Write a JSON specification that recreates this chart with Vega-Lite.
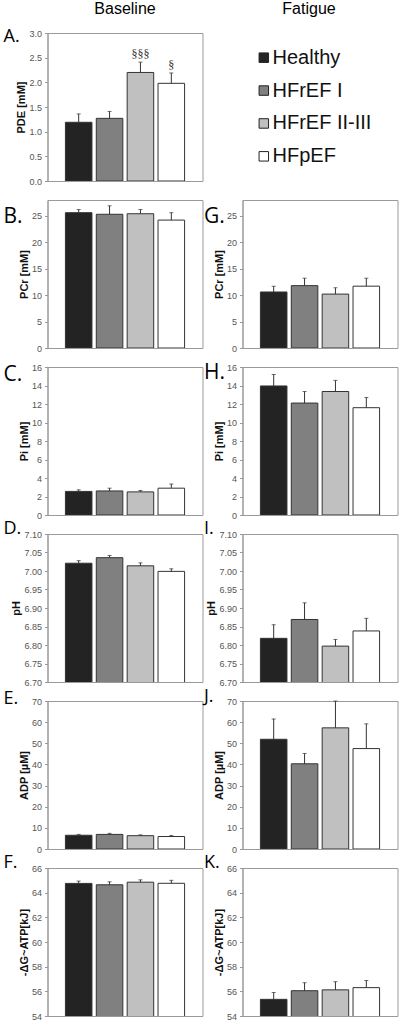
{
  "$schema": "https://vega.github.io/schema/vega-lite/v6.json",
  "padding": {"left": 2.5, "top": 0, "right": 0, "bottom": 0},
  "background": "#ffffff",
  "datasets": {
    "hdr": [{"col": "Baseline"}, {"col": "Fatigue"}],
    "bars": [
      {"p": "A", "g": "Healthy", "m": 1.19, "u": 1.36},
      {"p": "A", "g": "HFrEF I", "m": 1.27, "u": 1.41},
      {"p": "A", "g": "HFrEF II-III", "m": 2.2, "u": 2.41, "s": "§§§"},
      {"p": "A", "g": "HFpEF", "m": 1.98, "u": 2.19, "s": "§"},
      {"p": "B", "g": "Healthy", "m": 25.6, "u": 26.2},
      {"p": "B", "g": "HFrEF I", "m": 25.3, "u": 26.9},
      {"p": "B", "g": "HFrEF II-III", "m": 25.4, "u": 26.2},
      {"p": "B", "g": "HFpEF", "m": 24.2, "u": 25.6},
      {"p": "C", "g": "Healthy", "m": 2.55, "u": 2.72},
      {"p": "C", "g": "HFrEF I", "m": 2.6, "u": 2.9},
      {"p": "C", "g": "HFrEF II-III", "m": 2.5, "u": 2.65},
      {"p": "C", "g": "HFpEF", "m": 2.9, "u": 3.35},
      {"p": "D", "g": "Healthy", "m": 7.021, "u": 7.028},
      {"p": "D", "g": "HFrEF I", "m": 7.036, "u": 7.042},
      {"p": "D", "g": "HFrEF II-III", "m": 7.014, "u": 7.022},
      {"p": "D", "g": "HFpEF", "m": 6.999, "u": 7.006},
      {"p": "E", "g": "Healthy", "m": 6.5, "u": 6.9},
      {"p": "E", "g": "HFrEF I", "m": 6.9, "u": 7.4},
      {"p": "E", "g": "HFrEF II-III", "m": 6.3, "u": 6.7},
      {"p": "E", "g": "HFpEF", "m": 5.9, "u": 6.4},
      {"p": "F", "g": "Healthy", "m": 64.75, "u": 64.94},
      {"p": "F", "g": "HFrEF I", "m": 64.64, "u": 64.88},
      {"p": "F", "g": "HFrEF II-III", "m": 64.85, "u": 65.04},
      {"p": "F", "g": "HFpEF", "m": 64.76, "u": 65.0},
      {"p": "G", "g": "Healthy", "m": 10.6, "u": 11.7},
      {"p": "G", "g": "HFrEF I", "m": 11.8, "u": 13.2},
      {"p": "G", "g": "HFrEF II-III", "m": 10.2, "u": 11.4},
      {"p": "G", "g": "HFpEF", "m": 11.7, "u": 13.2},
      {"p": "H", "g": "Healthy", "m": 13.95, "u": 15.2},
      {"p": "H", "g": "HFrEF I", "m": 12.1, "u": 13.35},
      {"p": "H", "g": "HFrEF II-III", "m": 13.35, "u": 14.55},
      {"p": "H", "g": "HFpEF", "m": 11.6, "u": 12.7},
      {"p": "I", "g": "Healthy", "m": 6.818, "u": 6.855},
      {"p": "I", "g": "HFrEF I", "m": 6.869, "u": 6.914},
      {"p": "I", "g": "HFrEF II-III", "m": 6.797, "u": 6.815},
      {"p": "I", "g": "HFpEF", "m": 6.838, "u": 6.872},
      {"p": "J", "g": "Healthy", "m": 51.9, "u": 61.5},
      {"p": "J", "g": "HFrEF I", "m": 40.3, "u": 45.2},
      {"p": "J", "g": "HFrEF II-III", "m": 57.3, "u": 70},
      {"p": "J", "g": "HFpEF", "m": 47.5, "u": 59.2},
      {"p": "K", "g": "Healthy", "m": 55.35, "u": 55.9},
      {"p": "K", "g": "HFrEF I", "m": 56.05, "u": 56.7},
      {"p": "K", "g": "HFrEF II-III", "m": 56.12, "u": 56.78},
      {"p": "K", "g": "HFpEF", "m": 56.3, "u": 56.88}
    ]
  },
  "columns": 2,
  "spacing": {"row": 19, "column": 40},
  "bounds": "flush",
  "concat": [
    {
      "width": 155, "height": 14, "view": {"stroke": null},
      "data": {"name": "hdr"},
      "transform": [{"filter": "datum.col === 'Baseline'"}],
      "mark": {"type": "text", "font": "Liberation Sans", "fontSize": 16, "color": "#000", "baseline": "alphabetic", "dy": 7},
      "encoding": {"text": {"field": "col", "type": "nominal"}}
    },
    {
      "width": 155, "height": 14, "view": {"stroke": null},
      "data": {"name": "hdr"},
      "transform": [{"filter": "datum.col === 'Fatigue'"}],
      "mark": {"type": "text", "font": "Liberation Sans", "fontSize": 16, "color": "#000", "baseline": "alphabetic", "dy": 7, "dx": -11},
      "encoding": {"text": {"field": "col", "type": "nominal"}}
    },
    {
      "width": 155, "height": 148,
      "title": {"text": "A.", "fontSize": 18, "dx": -44, "dy": 20.8},
      "data": {"name": "bars"},
      "transform": [{"filter": "datum.p === 'A'"}],
      "encoding": {"x": {"field": "g", "type": "nominal", "sort": ["Healthy", "HFrEF I", "HFrEF II-III", "HFpEF"], "scale": {"paddingInner": 0.14, "paddingOuter": 0.58}, "axis": null}},
      "layer": [
        {"mark": {"type": "bar", "stroke": "#333", "strokeWidth": 1, "clip": true},
         "encoding": {"y": {"field": "m", "type": "quantitative", "scale": {"domain": [0, 3], "zero": false, "nice": false}, "axis": {"title": "PDE [mM]", "values": [0, 0.5, 1, 1.5, 2, 2.5, 3], "format": ".1f"}},
                      "fill": {"field": "g", "type": "nominal", "scale": {"domain": ["Healthy", "HFrEF I", "HFrEF II-III", "HFpEF"], "range": ["#232323", "#808080", "#c0c0c0", "#ffffff"]}, "legend": null}}},
        {"mark": {"type": "rule", "color": "#333", "strokeWidth": 1}, "encoding": {"y": {"field": "m", "type": "quantitative", "axis": {"title": "PDE [mM]", "values": [0, 0.5, 1, 1.5, 2, 2.5, 3], "format": ".1f"}}, "y2": {"field": "u"}}},
        {"mark": {"type": "tick", "color": "#333", "size": 4, "thickness": 1}, "encoding": {"y": {"field": "u", "type": "quantitative", "axis": {"title": "PDE [mM]", "values": [0, 0.5, 1, 1.5, 2, 2.5, 3], "format": ".1f"}}}},
        {"transform": [{"filter": "datum.s"}], "mark": {"type": "text", "font": "Liberation Serif", "fontSize": 12, "color": "#333", "baseline": "bottom", "dy": -1}, "encoding": {"y": {"field": "u", "type": "quantitative", "axis": {"title": "PDE [mM]", "values": [0, 0.5, 1, 1.5, 2, 2.5, 3], "format": ".1f"}}, "text": {"field": "s", "type": "nominal"}}}
      ]
    },
    {
      "width": 155, "height": 148, "view": {"stroke": null},
      "data": {"name": "bars"},
      "transform": [{"filter": "datum.p === 'A'"}],
      "encoding": {"y": {"field": "g", "type": "nominal", "sort": ["Healthy", "HFrEF I", "HFrEF II-III", "HFpEF"], "scale": {"type": "point", "padding": 0.75}, "axis": null}},
      "layer": [
        {"mark": {"type": "point", "shape": "square", "size": 90, "filled": true, "opacity": 1, "stroke": "#222", "strokeWidth": 1},
         "encoding": {"x": {"datum": 22, "type": "quantitative", "scale": {"domain": [0, 155]}, "axis": null},
                      "fill": {"field": "g", "type": "nominal", "scale": {"domain": ["Healthy", "HFrEF I", "HFrEF II-III", "HFpEF"], "range": ["#232323", "#808080", "#c0c0c0", "#ffffff"]}, "legend": null}}},
        {"mark": {"type": "text", "align": "left", "baseline": "middle", "font": "Liberation Sans", "fontSize": 20, "color": "#111"},
         "encoding": {"x": {"datum": 31, "type": "quantitative", "axis": null}, "text": {"field": "g", "type": "nominal"}}}
      ]
    },
    {
      "width": 155, "height": 148,
      "title": {"text": "B.", "fontSize": 21, "dx": -44, "dy": 31.2},
      "data": {"name": "bars"},
      "transform": [{"filter": "datum.p === 'B'"}],
      "encoding": {"x": {"field": "g", "type": "nominal", "sort": ["Healthy", "HFrEF I", "HFrEF II-III", "HFpEF"], "scale": {"paddingInner": 0.14, "paddingOuter": 0.58}, "axis": null}},
      "layer": [
        {"mark": {"type": "bar", "stroke": "#333", "strokeWidth": 1, "clip": true},
         "encoding": {"y": {"field": "m", "type": "quantitative", "scale": {"domain": [0, 28], "zero": false, "nice": false}, "axis": {"title": "PCr [mM]", "values": [0, 5, 10, 15, 20, 25]}},
                      "fill": {"field": "g", "type": "nominal", "scale": {"domain": ["Healthy", "HFrEF I", "HFrEF II-III", "HFpEF"], "range": ["#232323", "#808080", "#c0c0c0", "#ffffff"]}, "legend": null}}},
        {"mark": {"type": "rule", "color": "#333", "strokeWidth": 1}, "encoding": {"y": {"field": "m", "type": "quantitative", "axis": {"title": "PCr [mM]", "values": [0, 5, 10, 15, 20, 25]}}, "y2": {"field": "u"}}},
        {"mark": {"type": "tick", "color": "#333", "size": 4, "thickness": 1}, "encoding": {"y": {"field": "u", "type": "quantitative", "axis": {"title": "PCr [mM]", "values": [0, 5, 10, 15, 20, 25]}}}}
      ]
    },
    {
      "width": 155, "height": 148,
      "title": {"text": "G.", "fontSize": 21, "dx": -38.5, "dy": 31.2},
      "data": {"name": "bars"},
      "transform": [{"filter": "datum.p === 'G'"}],
      "encoding": {"x": {"field": "g", "type": "nominal", "sort": ["Healthy", "HFrEF I", "HFrEF II-III", "HFpEF"], "scale": {"paddingInner": 0.14, "paddingOuter": 0.58}, "axis": null}},
      "layer": [
        {"mark": {"type": "bar", "stroke": "#333", "strokeWidth": 1, "clip": true},
         "encoding": {"y": {"field": "m", "type": "quantitative", "scale": {"domain": [0, 28], "zero": false, "nice": false}, "axis": {"title": "PCr [mM]", "values": [0, 5, 10, 15, 20, 25]}},
                      "fill": {"field": "g", "type": "nominal", "scale": {"domain": ["Healthy", "HFrEF I", "HFrEF II-III", "HFpEF"], "range": ["#232323", "#808080", "#c0c0c0", "#ffffff"]}, "legend": null}}},
        {"mark": {"type": "rule", "color": "#333", "strokeWidth": 1}, "encoding": {"y": {"field": "m", "type": "quantitative", "axis": {"title": "PCr [mM]", "values": [0, 5, 10, 15, 20, 25]}}, "y2": {"field": "u"}}},
        {"mark": {"type": "tick", "color": "#333", "size": 4, "thickness": 1}, "encoding": {"y": {"field": "u", "type": "quantitative", "axis": {"title": "PCr [mM]", "values": [0, 5, 10, 15, 20, 25]}}}}
      ]
    },
    {
      "width": 155, "height": 148,
      "title": {"text": "C.", "fontSize": 21, "dx": -44, "dy": 26},
      "data": {"name": "bars"},
      "transform": [{"filter": "datum.p === 'C'"}],
      "encoding": {"x": {"field": "g", "type": "nominal", "sort": ["Healthy", "HFrEF I", "HFrEF II-III", "HFpEF"], "scale": {"paddingInner": 0.14, "paddingOuter": 0.58}, "axis": null}},
      "layer": [
        {"mark": {"type": "bar", "stroke": "#333", "strokeWidth": 1, "clip": true},
         "encoding": {"y": {"field": "m", "type": "quantitative", "scale": {"domain": [0, 16], "zero": false, "nice": false}, "axis": {"title": "Pi [mM]", "values": [0, 2, 4, 6, 8, 10, 12, 14, 16]}},
                      "fill": {"field": "g", "type": "nominal", "scale": {"domain": ["Healthy", "HFrEF I", "HFrEF II-III", "HFpEF"], "range": ["#232323", "#808080", "#c0c0c0", "#ffffff"]}, "legend": null}}},
        {"mark": {"type": "rule", "color": "#333", "strokeWidth": 1}, "encoding": {"y": {"field": "m", "type": "quantitative", "axis": {"title": "Pi [mM]", "values": [0, 2, 4, 6, 8, 10, 12, 14, 16]}}, "y2": {"field": "u"}}},
        {"mark": {"type": "tick", "color": "#333", "size": 4, "thickness": 1}, "encoding": {"y": {"field": "u", "type": "quantitative", "axis": {"title": "Pi [mM]", "values": [0, 2, 4, 6, 8, 10, 12, 14, 16]}}}}
      ]
    },
    {
      "width": 155, "height": 148,
      "title": {"text": "H.", "fontSize": 21, "dx": -38.5, "dy": 24.4},
      "data": {"name": "bars"},
      "transform": [{"filter": "datum.p === 'H'"}],
      "encoding": {"x": {"field": "g", "type": "nominal", "sort": ["Healthy", "HFrEF I", "HFrEF II-III", "HFpEF"], "scale": {"paddingInner": 0.14, "paddingOuter": 0.58}, "axis": null}},
      "layer": [
        {"mark": {"type": "bar", "stroke": "#333", "strokeWidth": 1, "clip": true},
         "encoding": {"y": {"field": "m", "type": "quantitative", "scale": {"domain": [0, 16], "zero": false, "nice": false}, "axis": {"title": "Pi [mM]", "values": [0, 2, 4, 6, 8, 10, 12, 14, 16]}},
                      "fill": {"field": "g", "type": "nominal", "scale": {"domain": ["Healthy", "HFrEF I", "HFrEF II-III", "HFpEF"], "range": ["#232323", "#808080", "#c0c0c0", "#ffffff"]}, "legend": null}}},
        {"mark": {"type": "rule", "color": "#333", "strokeWidth": 1}, "encoding": {"y": {"field": "m", "type": "quantitative", "axis": {"title": "Pi [mM]", "values": [0, 2, 4, 6, 8, 10, 12, 14, 16]}}, "y2": {"field": "u"}}},
        {"mark": {"type": "tick", "color": "#333", "size": 4, "thickness": 1}, "encoding": {"y": {"field": "u", "type": "quantitative", "axis": {"title": "Pi [mM]", "values": [0, 2, 4, 6, 8, 10, 12, 14, 16]}}}}
      ]
    },
    {
      "width": 155, "height": 148,
      "title": {"text": "D.", "fontSize": 18, "dx": -44, "dy": 12.4},
      "data": {"name": "bars"},
      "transform": [{"filter": "datum.p === 'D'"}],
      "encoding": {"x": {"field": "g", "type": "nominal", "sort": ["Healthy", "HFrEF I", "HFrEF II-III", "HFpEF"], "scale": {"paddingInner": 0.14, "paddingOuter": 0.58}, "axis": null}},
      "layer": [
        {"mark": {"type": "bar", "stroke": "#333", "strokeWidth": 1, "clip": true},
         "encoding": {"y": {"field": "m", "type": "quantitative", "scale": {"domain": [6.7, 7.1], "zero": false, "nice": false}, "axis": {"title": "pH", "values": [6.7, 6.75, 6.8, 6.85, 6.9, 6.95, 7.0, 7.05, 7.1], "format": ".2f"}},
                      "fill": {"field": "g", "type": "nominal", "scale": {"domain": ["Healthy", "HFrEF I", "HFrEF II-III", "HFpEF"], "range": ["#232323", "#808080", "#c0c0c0", "#ffffff"]}, "legend": null}}},
        {"mark": {"type": "rule", "color": "#333", "strokeWidth": 1}, "encoding": {"y": {"field": "m", "type": "quantitative", "axis": {"title": "pH", "values": [6.7, 6.75, 6.8, 6.85, 6.9, 6.95, 7.0, 7.05, 7.1], "format": ".2f"}}, "y2": {"field": "u"}}},
        {"mark": {"type": "tick", "color": "#333", "size": 4, "thickness": 1}, "encoding": {"y": {"field": "u", "type": "quantitative", "axis": {"title": "pH", "values": [6.7, 6.75, 6.8, 6.85, 6.9, 6.95, 7.0, 7.05, 7.1], "format": ".2f"}}}}
      ]
    },
    {
      "width": 155, "height": 148,
      "title": {"text": "I.", "fontSize": 18, "dx": -38.5, "dy": 12.4},
      "data": {"name": "bars"},
      "transform": [{"filter": "datum.p === 'I'"}],
      "encoding": {"x": {"field": "g", "type": "nominal", "sort": ["Healthy", "HFrEF I", "HFrEF II-III", "HFpEF"], "scale": {"paddingInner": 0.14, "paddingOuter": 0.58}, "axis": null}},
      "layer": [
        {"mark": {"type": "bar", "stroke": "#333", "strokeWidth": 1, "clip": true},
         "encoding": {"y": {"field": "m", "type": "quantitative", "scale": {"domain": [6.7, 7.1], "zero": false, "nice": false}, "axis": {"title": "pH", "values": [6.7, 6.75, 6.8, 6.85, 6.9, 6.95, 7.0, 7.05, 7.1], "format": ".2f"}},
                      "fill": {"field": "g", "type": "nominal", "scale": {"domain": ["Healthy", "HFrEF I", "HFrEF II-III", "HFpEF"], "range": ["#232323", "#808080", "#c0c0c0", "#ffffff"]}, "legend": null}}},
        {"mark": {"type": "rule", "color": "#333", "strokeWidth": 1}, "encoding": {"y": {"field": "m", "type": "quantitative", "axis": {"title": "pH", "values": [6.7, 6.75, 6.8, 6.85, 6.9, 6.95, 7.0, 7.05, 7.1], "format": ".2f"}}, "y2": {"field": "u"}}},
        {"mark": {"type": "tick", "color": "#333", "size": 4, "thickness": 1}, "encoding": {"y": {"field": "u", "type": "quantitative", "axis": {"title": "pH", "values": [6.7, 6.75, 6.8, 6.85, 6.9, 6.95, 7.0, 7.05, 7.1], "format": ".2f"}}}}
      ]
    },
    {
      "width": 155, "height": 148,
      "title": {"text": "E.", "fontSize": 18, "dx": -44, "dy": 14.8},
      "data": {"name": "bars"},
      "transform": [{"filter": "datum.p === 'E'"}],
      "encoding": {"x": {"field": "g", "type": "nominal", "sort": ["Healthy", "HFrEF I", "HFrEF II-III", "HFpEF"], "scale": {"paddingInner": 0.14, "paddingOuter": 0.58}, "axis": null}},
      "layer": [
        {"mark": {"type": "bar", "stroke": "#333", "strokeWidth": 1, "clip": true},
         "encoding": {"y": {"field": "m", "type": "quantitative", "scale": {"domain": [0, 70], "zero": false, "nice": false}, "axis": {"title": "ADP [µM]", "values": [0, 10, 20, 30, 40, 50, 60, 70]}},
                      "fill": {"field": "g", "type": "nominal", "scale": {"domain": ["Healthy", "HFrEF I", "HFrEF II-III", "HFpEF"], "range": ["#232323", "#808080", "#c0c0c0", "#ffffff"]}, "legend": null}}},
        {"mark": {"type": "rule", "color": "#333", "strokeWidth": 1}, "encoding": {"y": {"field": "m", "type": "quantitative", "axis": {"title": "ADP [µM]", "values": [0, 10, 20, 30, 40, 50, 60, 70]}}, "y2": {"field": "u"}}},
        {"mark": {"type": "tick", "color": "#333", "size": 4, "thickness": 1}, "encoding": {"y": {"field": "u", "type": "quantitative", "axis": {"title": "ADP [µM]", "values": [0, 10, 20, 30, 40, 50, 60, 70]}}}}
      ]
    },
    {
      "width": 155, "height": 148,
      "title": {"text": "J.", "fontSize": 18, "dx": -38.5, "dy": 13.1},
      "data": {"name": "bars"},
      "transform": [{"filter": "datum.p === 'J'"}],
      "encoding": {"x": {"field": "g", "type": "nominal", "sort": ["Healthy", "HFrEF I", "HFrEF II-III", "HFpEF"], "scale": {"paddingInner": 0.14, "paddingOuter": 0.58}, "axis": null}},
      "layer": [
        {"mark": {"type": "bar", "stroke": "#333", "strokeWidth": 1, "clip": true},
         "encoding": {"y": {"field": "m", "type": "quantitative", "scale": {"domain": [0, 70], "zero": false, "nice": false}, "axis": {"title": "ADP [µM]", "values": [0, 10, 20, 30, 40, 50, 60, 70]}},
                      "fill": {"field": "g", "type": "nominal", "scale": {"domain": ["Healthy", "HFrEF I", "HFrEF II-III", "HFpEF"], "range": ["#232323", "#808080", "#c0c0c0", "#ffffff"]}, "legend": null}}},
        {"mark": {"type": "rule", "color": "#333", "strokeWidth": 1, "clip": true}, "encoding": {"y": {"field": "m", "type": "quantitative", "axis": {"title": "ADP [µM]", "values": [0, 10, 20, 30, 40, 50, 60, 70]}}, "y2": {"field": "u"}}},
        {"mark": {"type": "tick", "color": "#333", "size": 4, "thickness": 1}, "encoding": {"y": {"field": "u", "type": "quantitative", "axis": {"title": "ADP [µM]", "values": [0, 10, 20, 30, 40, 50, 60, 70]}}}}
      ]
    },
    {
      "width": 155, "height": 148,
      "title": {"text": "F.", "fontSize": 18, "dx": -44, "dy": 12.1},
      "data": {"name": "bars"},
      "transform": [{"filter": "datum.p === 'F'"}],
      "encoding": {"x": {"field": "g", "type": "nominal", "sort": ["Healthy", "HFrEF I", "HFrEF II-III", "HFpEF"], "scale": {"paddingInner": 0.14, "paddingOuter": 0.58}, "axis": null}},
      "layer": [
        {"mark": {"type": "bar", "stroke": "#333", "strokeWidth": 1, "clip": true},
         "encoding": {"y": {"field": "m", "type": "quantitative", "scale": {"domain": [54, 66], "zero": false, "nice": false}, "axis": {"title": "-ΔG~ATP[kJ]", "values": [54, 56, 58, 60, 62, 64, 66]}},
                      "fill": {"field": "g", "type": "nominal", "scale": {"domain": ["Healthy", "HFrEF I", "HFrEF II-III", "HFpEF"], "range": ["#232323", "#808080", "#c0c0c0", "#ffffff"]}, "legend": null}}},
        {"mark": {"type": "rule", "color": "#333", "strokeWidth": 1}, "encoding": {"y": {"field": "m", "type": "quantitative", "axis": {"title": "-ΔG~ATP[kJ]", "values": [54, 56, 58, 60, 62, 64, 66]}}, "y2": {"field": "u"}}},
        {"mark": {"type": "tick", "color": "#333", "size": 4, "thickness": 1}, "encoding": {"y": {"field": "u", "type": "quantitative", "axis": {"title": "-ΔG~ATP[kJ]", "values": [54, 56, 58, 60, 62, 64, 66]}}}}
      ]
    },
    {
      "width": 155, "height": 148,
      "title": {"text": "K.", "fontSize": 18, "dx": -38.5, "dy": 12.1},
      "data": {"name": "bars"},
      "transform": [{"filter": "datum.p === 'K'"}],
      "encoding": {"x": {"field": "g", "type": "nominal", "sort": ["Healthy", "HFrEF I", "HFrEF II-III", "HFpEF"], "scale": {"paddingInner": 0.14, "paddingOuter": 0.58}, "axis": null}},
      "layer": [
        {"mark": {"type": "bar", "stroke": "#333", "strokeWidth": 1, "clip": true},
         "encoding": {"y": {"field": "m", "type": "quantitative", "scale": {"domain": [54, 66], "zero": false, "nice": false}, "axis": {"title": "-ΔG~ATP[kJ]", "values": [54, 56, 58, 60, 62, 64, 66]}},
                      "fill": {"field": "g", "type": "nominal", "scale": {"domain": ["Healthy", "HFrEF I", "HFrEF II-III", "HFpEF"], "range": ["#232323", "#808080", "#c0c0c0", "#ffffff"]}, "legend": null}}},
        {"mark": {"type": "rule", "color": "#333", "strokeWidth": 1}, "encoding": {"y": {"field": "m", "type": "quantitative", "axis": {"title": "-ΔG~ATP[kJ]", "values": [54, 56, 58, 60, 62, 64, 66]}}, "y2": {"field": "u"}}},
        {"mark": {"type": "tick", "color": "#333", "size": 4, "thickness": 1}, "encoding": {"y": {"field": "u", "type": "quantitative", "axis": {"title": "-ΔG~ATP[kJ]", "values": [54, 56, 58, 60, 62, 64, 66]}}}}
      ]
    }
  ],
  "config": {
    "view": {"stroke": "#9a9a9a", "strokeWidth": 1},
    "axisY": {"labelFont": "Liberation Sans", "labelFontSize": 9, "labelColor": "#555", "labelOverlap": false, "tickSize": 3, "tickColor": "#999", "domainColor": "#999", "labelPadding": 3, "titleFont": "Liberation Sans", "titleFontSize": 11, "titleFontWeight": "bold", "titleColor": "#111", "titlePadding": 2, "grid": false},
    "title": {"anchor": "start", "frame": "group", "font": "Open Sans", "fontWeight": "normal", "color": "#000", "baseline": "alphabetic", "offset": 0}
  }
}
